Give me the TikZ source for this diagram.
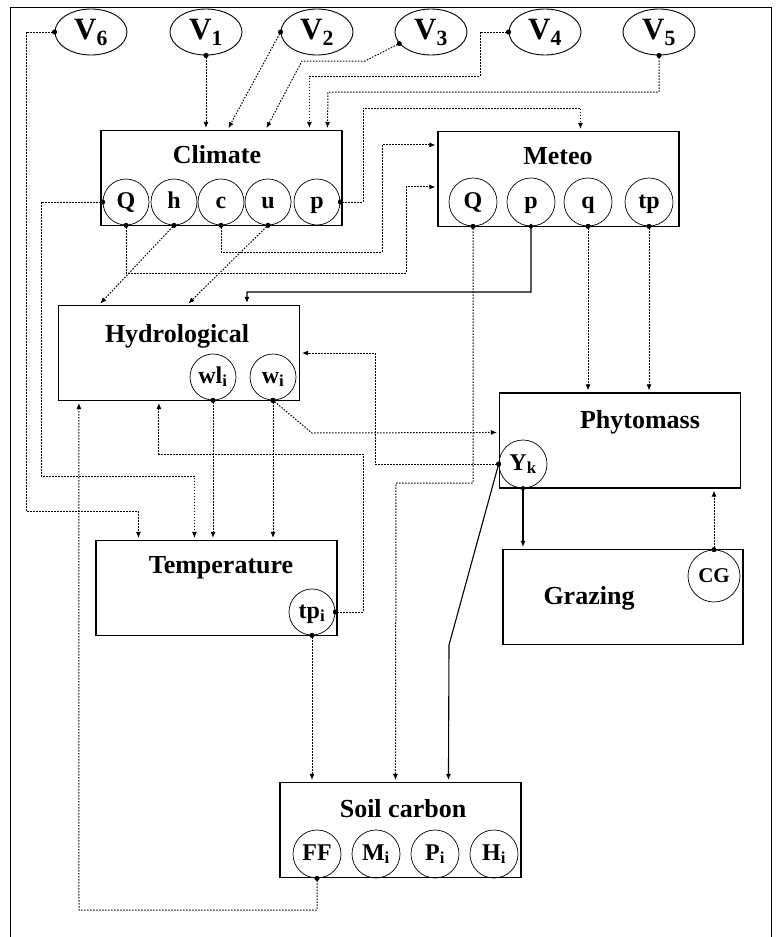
\documentclass[tikz,border=0pt]{standalone}
\usepackage{fontspec}
\setmainfont{Liberation Serif}
\usetikzlibrary{shapes.geometric, arrows.meta}

\tikzset{
  module/.style={draw, line width=1.1pt, minimum width=241, minimum height=95, inner sep=0pt},
  title/.style={anchor=base, font=\fontsize{26}{30}\selectfont\bfseries},
  port/.style={circle, draw, line width=0.7pt, minimum size=46, inner sep=0pt, text height=15pt, text depth=3pt, font=\fontsize{24}{26}\selectfont\bfseries},
  driver/.style={ellipse, draw, line width=0.9pt, minimum width=72, minimum height=46, inner sep=0pt, text height=19pt, text depth=4pt, font=\fontsize{31}{33}\selectfont\bfseries},
  link/.style={line width=1pt, dash pattern=on 1.5pt off 1.5pt, {Circle[length=5pt]}-{Latex[length=6pt,width=5pt]}, shorten <=-2.5pt, shorten >=2pt},
  solidlink/.style={line width=1.1pt, {Circle[length=5pt]}-{Latex[length=6pt,width=5pt]}, shorten <=-2.5pt, shorten >=2pt}
}

\begin{document}
\begin{tikzpicture}[x=1pt, y=-1pt]
    \useasboundingbox (0,0) rectangle (777,937);
    \draw[line width=1pt] (10,937) -- (10,7) -- (771,7) -- (771,937);

    % drivers
    \node[driver] (v6) at (91,32) {V\textsubscript{6}};
    \node[driver] (v1) at (206,32) {V\textsubscript{1}};
    \node[driver] (v2) at (317,32) {V\textsubscript{2}};
    \node[driver] (v3) at (431,32) {V\textsubscript{3}};
    \node[driver] (v4) at (545,32) {V\textsubscript{4}};
    \node[driver] (v5) at (659,32) {V\textsubscript{5}};

    % modules
    \node[module] (climate) at (221.5,178) {};
    \node[title] at (217,163) {Climate};
    \node[port] (clQ) at (126,202) {Q};
    \node[port] (clh) at (174,202) {h};
    \node[port] (clc) at (221,202) {c};
    \node[port] (clu) at (268,202) {u};
    \node[port] (clp) at (317,202) {p};

    \node[module] (meteo) at (558.5,179) {};
    \node[title] at (558,164) {Meteo};
    \node[port, minimum size=48] (mtQ) at (473,202) {Q};
    \node[port, minimum size=48] (mtp) at (531,202) {p};
    \node[port, minimum size=48] (mtq) at (588,202) {q};
    \node[port, minimum size=48] (mttp) at (649,202) {tp};

    \node[module] (hydro) at (179,353) {};
    \node[title] at (177,342) {Hydrological};
    \node[port] (wl) at (213,377) {wl\textsubscript{i}};
    \node[port] (w) at (273,377) {w\textsubscript{i}};

    \node[module] (phyto) at (620,440.5) {};
    \node[title] at (640,428) {Phytomass};
    \node[port, minimum size=48] (yk) at (523,464) {Y\textsubscript{k}};

    \node[module, minimum width=240] (grazing) at (623,597) {};
    \node[title] at (589,604) {Grazing};
    \node[port, minimum size=52, font=\fontsize{21}{23}\selectfont\bfseries] (cg) at (714,576) {CG};

    \node[module] (temp) at (216.5,588) {};
    \node[title] at (221,573) {Temperature};
    \node[port] (tpi) at (312,612) {tp\textsubscript{i}};

    \node[module] (soil) at (400.5,830) {};
    \node[title] at (403,817) {Soil carbon};
    \node[port, minimum size=48] (ff) at (317,854) {FF};
    \node[port, minimum size=48] (mi) at (376,854) {M\textsubscript{i}};
    \node[port, minimum size=48] (pi) at (435,854) {P\textsubscript{i}};
    \node[port, minimum size=48] (hi) at (494,854) {H\textsubscript{i}};

    % drivers to climate
    \draw[link] (v1.south) -- (v1.south |- climate.north);
    \draw[link] (v2.west) -- ([xshift=127pt]climate.north west);
    \draw[link] (v3.200) -- (365,61) -- (302,61) -- ([xshift=165pt]climate.north west);
    \draw[link] (v4.west) -| (480,76) -| ([xshift=209pt]climate.north west);
    \draw[link] (v5.south) |- (328,92) -- ([xshift=227pt]climate.north west);
    \draw[link] (v6.west) -| (26,511) -| ([xshift=43pt]temp.north west);

    % climate outputs
    \draw[link] (clp.east) -| (363,108) -| ([xshift=143pt]meteo.north west);
    \draw[link] (clc.south) |- (382,252) |- ([yshift=-14pt]meteo.north west);
    \draw[link] (clQ.south) |- (406,273) |- ([yshift=-56pt]meteo.north west);
    \draw[link] (clh.south) -- ([xshift=41pt]hydro.north west);
    \draw[link] (clu.south) -- ([xshift=129pt]hydro.north west);
    \draw[link] (clQ.west) -| (41,476) -| ([xshift=99pt]temp.north west);

    % meteo outputs
    \draw[solidlink] (mtp.south) |- (247,292) -- ([xshift=189pt]hydro.north west);
    \draw[link] (mtQ.south) |- (396,483) -- ([xshift=116pt]soil.north west);
    \draw[link] (mtq.south) -- (mtq.south |- phyto.north);
    \draw[link] (mttp.south) -- (mttp.south |- phyto.north);

    % hydrological outputs
    \draw[link] (wl.south) -- (wl.south |- temp.north);
    \draw[link] (w.south) -- (w.south |- temp.north);
    \draw[link] (w.south) -- (312,433) -- ([yshift=-40pt]phyto.north west);

    % phytomass and grazing
    \draw[link] (yk.west) -| (375,353) -- (hydro.east);
    \draw[solidlink] (yk.west) -- (449,645) -- ([xshift=169pt]soil.north west);
    \draw[solidlink] (yk.south) -- (yk.south |- grazing.north);
    \draw[link] (cg.north) -- (cg.north |- phyto.south);

    % temperature and soil carbon
    \draw[link] (tpi.south) -- (tpi.south |- soil.north);
    \draw[link] (tpi.east) -| (363,454) -| ([xshift=101pt]hydro.south west);
    \draw[link] (ff.south) |- (79,910) -- ([xshift=21pt]hydro.south west);
\end{tikzpicture}
\end{document}
